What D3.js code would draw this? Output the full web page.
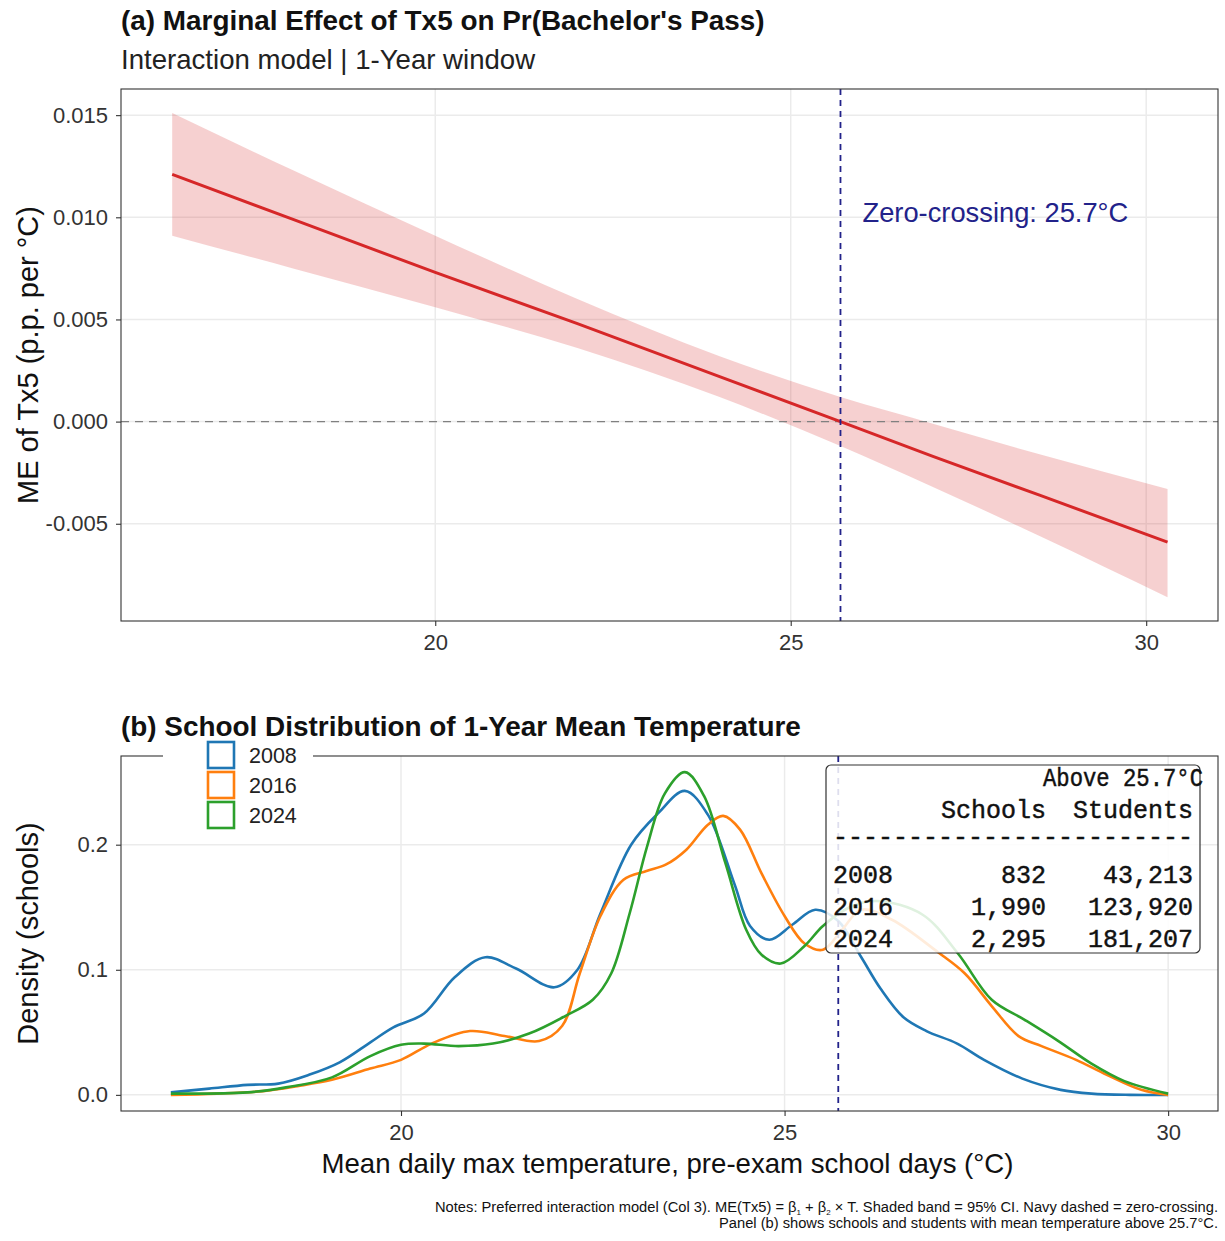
<!DOCTYPE html>
<html>
<head>
<meta charset="utf-8">
<script src="https://cdn.jsdelivr.net/npm/d3@7"></script>
<style>
  body { margin: 0; background: #fff; }
  svg { font-family: "Liberation Sans", Arial, sans-serif; }
</style>
</head>
<body>
<svg width="1225" height="1241"></svg>
<script>
// panel (a): marginal effect with 95% CI
const meTemp = [16.3, 18, 20, 22, 24, 25.7, 27, 28.5, 30.3];
const meEst  = [0.0121, 0.0099, 0.0073, 0.0048, 0.0022, 0.0000, -0.0017, -0.0036, -0.0059];
const meLo   = [0.0091, 0.0075, 0.0056, 0.0036, 0.0012, -0.0012, -0.0032, -0.0056, -0.0086];
const meHi   = [0.0151, 0.0123, 0.0091, 0.0060, 0.0032, 0.0012, -0.0001, -0.0016, -0.0033];
const zeroCross = 25.7;

// panel (b): density of school mean temperature, [temp, density]
const years = ["2008", "2016", "2024"];
const dens2008 = [[17.0,0.002],[17.5,0.005],[18.0,0.008],[18.4,0.009],[18.8,0.016],[19.2,0.026],[19.6,0.042],
  [19.9,0.054],[20.3,0.065],[20.7,0.094],[21.1,0.110],[21.5,0.101],[22.0,0.086],[22.3,0.100],[22.6,0.145],
  [23.0,0.200],[23.35,0.225],[23.7,0.243],[24.0,0.224],[24.35,0.168],[24.55,0.135],[24.8,0.124],[25.1,0.136],
  [25.4,0.148],[25.7,0.139],[26.0,0.110],[26.25,0.085],[26.55,0.062],[26.85,0.051],[27.25,0.041],[27.6,0.028],
  [28.1,0.013],[28.6,0.004],[29.0,0.001],[29.5,0.000],[30.0,0.000]];
const dens2016 = [[17.0,0.000],[17.6,0.001],[18.2,0.003],[18.65,0.007],[19.1,0.012],[19.6,0.021],[20.0,0.028],
  [20.4,0.041],[20.9,0.051],[21.35,0.047],[21.8,0.043],[22.1,0.055],[22.33,0.097],[22.6,0.143],[22.9,0.172],
  [23.2,0.179],[23.45,0.184],[23.72,0.196],[24.0,0.216],[24.2,0.223],[24.42,0.212],[24.7,0.177],[25.0,0.143],
  [25.26,0.121],[25.5,0.116],[25.75,0.132],[26.0,0.148],[26.4,0.140],[27.0,0.114],[27.35,0.097],[27.7,0.071],
  [28.05,0.047],[28.35,0.039],[28.8,0.028],[29.2,0.016],[29.65,0.004],[30.0,0.000]];
const dens2024 = [[17.0,0.001],[18.0,0.002],[18.5,0.006],[19.1,0.014],[19.6,0.031],[20.0,0.040],[20.3,0.041],
  [20.75,0.039],[21.2,0.041],[21.67,0.049],[22.14,0.063],[22.5,0.076],[22.74,0.097],[22.98,0.145],[23.21,0.199],
  [23.44,0.241],[23.7,0.258],[23.95,0.239],[24.23,0.185],[24.5,0.132],[24.7,0.112],[24.95,0.105],[25.26,0.119],
  [25.5,0.135],[25.85,0.150],[26.2,0.155],[26.8,0.144],[27.26,0.113],[27.7,0.076],[28.13,0.060],[28.57,0.043],
  [29.0,0.025],[29.43,0.011],[30.0,0.001]];
const densities = [dens2008, dens2016, dens2024];
const yearColors = ["#1f77b4", "#ff7f0e", "#2ca02c"];

// summary table: schools / students above threshold
const schoolsAbove = [832, 1990, 2295];
const studentsAbove = [43213, 123920, 181207];

const xTicks = [20, 25, 30];
const meTicks = [-0.005, 0, 0.005, 0.010, 0.015];
const densTicks = [0, 0.1, 0.2];

const svg = d3.select("svg");
const L = 121, R = 1218;
const navy = "#22228a";

function frame(x, y, top, bottom, yTicks, yFmt) {
  const g = svg.append("g");
  g.append("rect").attr("x", L).attr("y", top).attr("width", R - L).attr("height", bottom - top).attr("fill", "#fff");
  g.selectAll(".gx").data(xTicks).enter().append("line")
    .attr("x1", d => x(d)).attr("x2", d => x(d)).attr("y1", top).attr("y2", bottom)
    .attr("stroke", "#ebebeb").attr("stroke-width", 1.5);
  g.selectAll(".gy").data(yTicks).enter().append("line")
    .attr("x1", L).attr("x2", R).attr("y1", d => y(d)).attr("y2", d => y(d))
    .attr("stroke", "#ebebeb").attr("stroke-width", 1.5);

  const ax = svg.append("g").attr("transform", `translate(0,${bottom})`)
    .call(d3.axisBottom(x).tickValues(xTicks).tickSize(5).tickPadding(8));
  const ay = svg.append("g").attr("transform", `translate(${L},0)`)
    .call(d3.axisLeft(y).tickValues(yTicks).tickFormat(yFmt).tickSize(5).tickPadding(8));
  [ax, ay].forEach(a => {
    a.select(".domain").remove();
    a.selectAll("line").attr("stroke", "#333").attr("stroke-width", 1.1);
    a.selectAll("text").attr("font-size", 22).attr("fill", "#333")
      .attr("font-family", "Liberation Sans, Arial, sans-serif");
  });
  return g;
}

function border(top, bottom) {
  svg.append("rect").attr("x", L).attr("y", top).attr("width", R - L).attr("height", bottom - top)
    .attr("fill", "none").attr("stroke", "#333").attr("stroke-width", 1.1);
}

// ---------- panel (a)
const aTop = 89, aBot = 621;
const xa = d3.scaleLinear().domain([15.58, 31.01]).range([L, R]);
const ya = d3.scaleLinear().domain([-0.00976, 0.01628]).range([aBot, aTop]);
frame(xa, ya, aTop, aBot, meTicks, d => d.toFixed(3));

svg.append("path")
  .attr("d", d3.area().x((d, i) => xa(meTemp[i])).y0((d, i) => ya(meLo[i])).y1((d, i) => ya(meHi[i]))
    .curve(d3.curveMonotoneX)(meTemp))
  .attr("fill", "#d62728").attr("fill-opacity", 0.22);

svg.append("line").attr("x1", L).attr("x2", R).attr("y1", ya(0)).attr("y2", ya(0))
  .attr("stroke", "#808080").attr("stroke-width", 1.4).attr("stroke-dasharray", "8,6");

svg.append("path")
  .attr("d", d3.line().x((d, i) => xa(meTemp[i])).y((d, i) => ya(meEst[i]))(meTemp))
  .attr("fill", "none").attr("stroke", "#d62728").attr("stroke-width", 3);

svg.append("line").attr("x1", xa(zeroCross)).attr("x2", xa(zeroCross)).attr("y1", aTop).attr("y2", aBot)
  .attr("stroke", navy).attr("stroke-width", 1.8).attr("stroke-dasharray", "6,5");

svg.append("text").attr("x", xa(zeroCross) + 22).attr("y", 222)
  .attr("font-size", 27.3).attr("fill", navy).text("Zero-crossing: 25.7°C");

border(aTop, aBot);

svg.append("text").attr("x", L).attr("y", 30).attr("font-size", 27.9).attr("font-weight", "bold")
  .attr("fill", "#111").text("(a) Marginal Effect of Tx5 on Pr(Bachelor's Pass)");
svg.append("text").attr("x", L).attr("y", 69).attr("font-size", 27.6).attr("fill", "#222")
  .text("Interaction model | 1-Year window");
svg.append("text").attr("transform", `translate(38,${(aTop + aBot) / 2}) rotate(-90)`)
  .attr("text-anchor", "middle").attr("font-size", 29).attr("fill", "#111")
  .text("ME of Tx5 (p.p. per °C)");

// ---------- panel (b)
const bTop = 756, bBot = 1111;
const xb = d3.scaleLinear().domain([16.35, 30.65]).range([L, R]);
const yb = d3.scaleLinear().domain([-0.0129, 0.2709]).range([bBot, bTop]);
frame(xb, yb, bTop, bBot, densTicks, d => d.toFixed(1));

const densLine = d3.line().x(d => xb(d[0])).y(d => yb(d[1])).curve(d3.curveCatmullRom.alpha(0.5));
svg.selectAll(".dens").data(densities).enter().append("path")
  .attr("d", densLine).attr("fill", "none")
  .attr("stroke", (d, i) => yearColors[i]).attr("stroke-width", 2.6);

svg.append("line").attr("x1", xb(zeroCross)).attr("x2", xb(zeroCross)).attr("y1", bTop).attr("y2", bBot)
  .attr("stroke", navy).attr("stroke-width", 1.8).attr("stroke-dasharray", "6,5");

border(bTop, bBot);

// table box
const fmt = d3.format(",");
const tb = svg.append("g").attr("font-family", "Liberation Mono, Courier New, monospace")
  .attr("font-size", 25).attr("fill", "#111").attr("stroke", "#111").attr("stroke-width", 0.45);
tb.append("rect").attr("x", 826).attr("y", 765).attr("width", 374).attr("height", 188).attr("rx", 5)
  .attr("fill", "#fff").attr("fill-opacity", 0.85).attr("stroke", "#333").attr("stroke-width", 1.2);
tb.append("text").attr("x", 1043).attr("y", 786)
  .attr("textLength", 160).attr("lengthAdjust", "spacingAndGlyphs").text("Above 25.7°C");
tb.append("text").attr("x", 1046).attr("y", 818).attr("text-anchor", "end").text("Schools");
tb.append("text").attr("x", 1193).attr("y", 818).attr("text-anchor", "end").text("Students");
tb.append("text").attr("x", 833).attr("y", 845).text("-".repeat(24));
years.forEach((yr, i) => {
  const yy = 883 + i * 32;
  tb.append("text").attr("x", 833).attr("y", yy).text(yr);
  tb.append("text").attr("x", 1046).attr("y", yy).attr("text-anchor", "end").text(fmt(schoolsAbove[i]));
  tb.append("text").attr("x", 1193).attr("y", yy).attr("text-anchor", "end").text(fmt(studentsAbove[i]));
});

// legend (overlaps top border)
const lg = svg.append("g");
lg.append("rect").attr("x", 163).attr("y", 740).attr("width", 150).attr("height", 92).attr("fill", "#fff");
years.forEach((yr, i) => {
  const cy = 755 + i * 30;
  lg.append("rect").attr("x", 208).attr("y", cy - 13).attr("width", 26).attr("height", 26)
    .attr("fill", "#fff").attr("stroke", yearColors[i]).attr("stroke-width", 2.6);
  lg.append("text").attr("x", 249).attr("y", cy + 7.5).attr("font-size", 21.5).attr("fill", "#222").text(yr);
});

svg.append("text").attr("x", L).attr("y", 736).attr("font-size", 27.9).attr("font-weight", "bold")
  .attr("fill", "#111").text("(b) School Distribution of 1-Year Mean Temperature");
svg.append("text").attr("x", (L + R) / 2 - 2).attr("y", 1173).attr("text-anchor", "middle")
  .attr("font-size", 27.6).attr("fill", "#111").text("Mean daily max temperature, pre-exam school days (°C)");
svg.append("text").attr("transform", `translate(38,${(bTop + bBot) / 2}) rotate(-90)`)
  .attr("text-anchor", "middle").attr("font-size", 29).attr("fill", "#111").text("Density (schools)");

// notes
const n1 = svg.append("text").attr("x", R).attr("y", 1212).attr("text-anchor", "end")
  .attr("font-size", 14.7).attr("fill", "#111");
n1.append("tspan").text("Notes: Preferred interaction model (Col 3). ME(Tx5) = β");
n1.append("tspan").attr("font-size", 8).attr("dy", 3).text("1");
n1.append("tspan").attr("dy", -3).text(" + β");
n1.append("tspan").attr("font-size", 8).attr("dy", 3).text("2");
n1.append("tspan").attr("dy", -3).text(" × T. Shaded band = 95% CI. Navy dashed = zero-crossing.");
svg.append("text").attr("x", R).attr("y", 1228).attr("text-anchor", "end")
  .attr("font-size", 14.7).attr("fill", "#111")
  .text("Panel (b) shows schools and students with mean temperature above 25.7°C.");
</script>
</body>
</html>
